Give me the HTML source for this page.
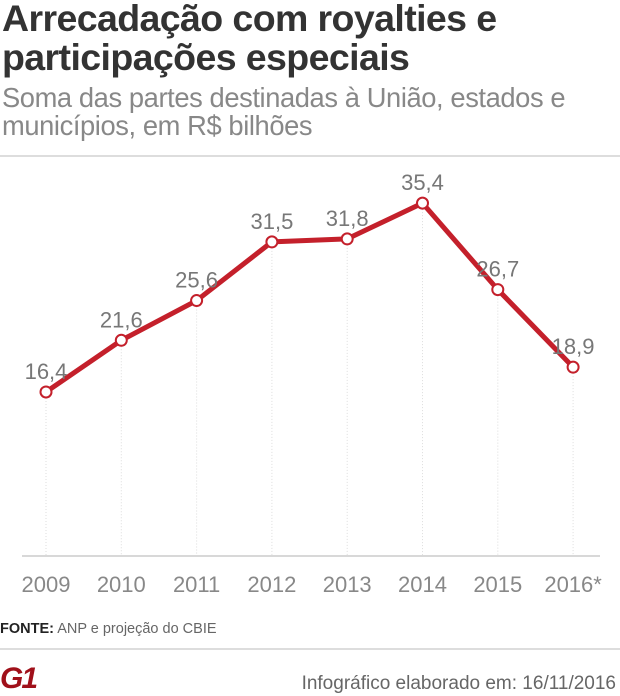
<!DOCTYPE html>
<html><head><meta charset="utf-8"><style>
body{margin:0;width:620px;height:696px;background:#fff;font-family:"Liberation Sans",sans-serif;overflow:hidden;position:relative}
.t{position:absolute;left:2px;top:-1px;font-size:37.5px;font-weight:bold;color:#333;line-height:39px;letter-spacing:-0.6px;white-space:nowrap}
.s{position:absolute;left:2px;top:84px;font-size:27.3px;color:#888;line-height:28px;letter-spacing:-0.4px;white-space:nowrap}
.hr{position:absolute;left:0;width:620px;height:2px;background:#ddd}
</style></head><body>
<div class="t">Arrecadação com royalties e<br>participações especiais</div>
<div class="s">Soma das partes destinadas à União, estados e<br>municípios, em R$ bilhões</div>
<div class="hr" style="top:155px"></div>
<svg id="c" width="620" height="696" style="position:absolute;left:0;top:0"></svg>
<div style="position:absolute;left:0;top:621px;font-size:14.5px;color:#666"><b style="color:#222">FONTE:</b> ANP e projeção do CBIE</div>
<div class="hr" style="top:648px"></div>
<div style="position:absolute;left:0;top:664px;font-size:30px;font-weight:bold;color:#a0101a;font-style:italic;line-height:30px;letter-spacing:-2px">G1</div>
<div style="position:absolute;right:4px;top:673px;font-size:19px;color:#666">Infográfico elaborado em: 16/11/2016</div>
<script>
const categories=["2009","2010","2011","2012","2013","2014","2015","2016*"];
const values=[16.4,21.6,25.6,31.5,31.8,35.4,26.7,18.9];
const labels=["16,4","21,6","25,6","31,5","31,8","35,4","26,7","18,9"];
const svg=document.getElementById('c');const NS="http://www.w3.org/2000/svg";
const x=i=>46+i*75.3;const y=v=>555-v*9.94;
function mk(t,a){const e=document.createElementNS(NS,t);for(const k in a)e.setAttribute(k,a[k]);svg.appendChild(e);return e;}
categories.forEach((c,i)=>{
 const g=mk('line',{x1:x(i),x2:x(i),y1:y(values[i]),y2:555,stroke:'#ddd','stroke-dasharray':'1,2'});
 
 const t=mk('text',{x:x(i),y:592,'text-anchor':'middle','font-size':22,fill:'#888','font-family':'Liberation Sans'});t.textContent=c;
 
});
const ax=mk('line',{x1:22,x2:600,y1:556,y2:556,stroke:'#ccc','stroke-width':1.5});

const pl=mk('polyline',{points:values.map((v,i)=>x(i)+','+y(v)).join(' '),fill:'none',stroke:'#c4202b','stroke-width':5,'stroke-linejoin':'round'});

values.forEach((v,i)=>{
 const c=mk('circle',{cx:x(i),cy:y(v),r:5.5,fill:'#fff',stroke:'#c4202b','stroke-width':2});
 
 const t=mk('text',{x:x(i),y:y(v)-13,'text-anchor':'middle','font-size':22,fill:'#777','font-family':'Liberation Sans'});t.textContent=labels[i];
 
});
</script>
</body></html>
